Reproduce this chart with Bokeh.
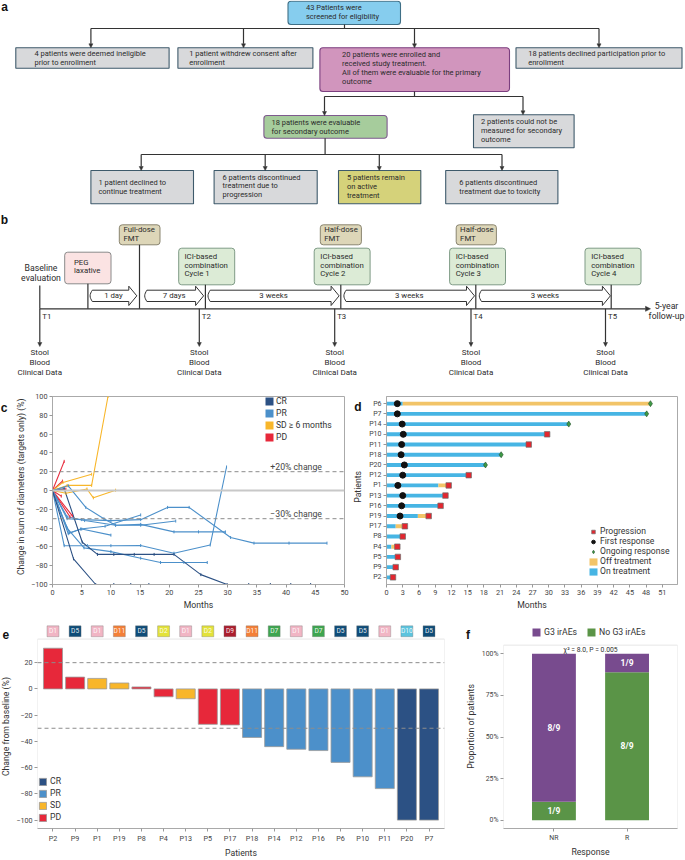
import numpy as np
from bokeh.plotting import figure
from bokeh.models import (Range1d, FactorRange, Arrow, NormalHead, Legend, LegendItem,
                          Label, Span, BoxAnnotation, FixedTicker, ColumnDataSource)
from bokeh.layouts import column, row
from bokeh.core.properties import value
from bokeh.embed import file_html
from bokeh.resources import INLINE

FONT = "Roboto"
BOLD = "Liberation Sans"
DARK = "#333333"
TXT = "#2b2b2b"
GRAY_FILL = "#d8d9db"
SLATE = "#3e5a6b"
NA = float("nan")

# ======================= DATA =======================
# panel a: flow chart
fc_text = [["43 Patients were", "screened for eligibility"],
           ["4 patients were deemed ineligible", "prior to enrollment"],
           ["1 patient withdrew consent after", "enrollment"],
           ["20 patients were enrolled and", "received study treatment.",
            "All of them were evaluable for the primary", "outcome"],
           ["18 patients declined participation prior to", "enrollment"],
           ["18 patients were evaluable", "for secondary outcome"],
           ["2 patients could not be", "measured for secondary", "outcome"],
           ["1 patient declined to", "continue treatment"],
           ["6 patients discontinued", "treatment due to", "progression"],
           ["5 patients remain", "on active", "treatment"],
           ["6 patients discontinued", "treatment due to toxicity"]]
# panel b: timeline
tl_points = ["T1", "T2", "T3", "T4", "T5"]
tl_steps = ["1 day", "7 days", "3 weeks", "3 weeks", "3 weeks"]
tl_events = [["PEG", "laxative"], ["Full-dose", "FMT"], ["ICI-based", "combination", "Cycle 1"],
             ["Half-dose", "FMT"], ["ICI-based", "combination", "Cycle 2"],
             ["Half-dose", "FMT"], ["ICI-based", "combination", "Cycle 3"],
             ["ICI-based", "combination", "Cycle 4"]]
tl_samples = ["Stool", "Blood", "Clinical Data"]

# panel c: spider plot
c_pat = ["P2", "P9", "P8", "P4", "P5", "P17", "P1", "P19", "P13",
         "P18", "P14", "P12", "P16", "P6", "P10", "P11", "P20", "P7"]
c_resp = ["PD"] * 6 + ["SD"] * 3 + ["PR"] * 7 + ["CR"] * 2
c_months = [
    [0, 2.0], [0, 1.7], [0, 2.3], [0, 1.5], [0, 3.4], [0, 3.0],
    [0, 1.8, 6.7], [0, 2.5, 6.7, 9.5], [0, 2.3, 5.9, 7.0, 10.8],
    [0, 2.5, 5.5, 10.8, 15.1, 21.1],
    [0, 2.7, 5.7, 8.8, 10.8, 15.1, 20.8, 25.0, 29.6],
    [0, 2.7, 4.8, 9.0, 15.1],
    [0, 1.5, 2.9, 5.0, 10.0],
    [0, 2.5, 5.0, 10.0, 15.1, 19.7, 23.4, 30.5, 34.5, 40.5, 47.0],
    [0, 2.0, 6.0, 10.0, 15.1, 20.8, 27.0, 29.8],
    [0, 2.5, 5.4, 10.0, 15.1, 18.5, 22.5, 26.5],
    [0, 3.6, 7.4, 10.5, 13.4, 16.5],
    [0, 2.0, 5.1, 7.7, 10.5, 14.0, 17.4, 20.8, 25.4, 29.9, 33.6, 37.3, 40.8, 44.2],
]
c_change = [
    [0, 31], [0, 10], [0, 1.5], [0, -6], [0, -27], [0, -28],
    [0, 8.6, 17.3], [0, 5.4, 5.4, 100], [0, -3, 1.6, -7.8, 0.3],
    [0, -28, -32, -37, -37, -32.5],
    [0, 5, -18, -30, -37, -36, -44, -44, -44],
    [0, -46, -41, -38, -26],
    [0, -25, -45, -41, -47.5],
    [0, -30, -31, -32, -31, -18, -18, -50, -56, -56, -56],
    [0, -58.7, -58.7, -58.7, -58.5, -66.7, -58, 25],
    [0, -40, -61, -65, -72, -76.6, -76.6, -76.6],
    [0, -72.7, -100, -100, -100, -100],
    [0, 1.9, -55, -68, -68, -68, -68, -68, -89.5, -100, -100, -100, -100, -100],
]
resp_names = ["CR", "PR", "SD", "PD"]
resp_colors = {"CR": "#2c5184", "PR": "#4c90ca", "SD": "#f8b62a", "PD": "#e7283a"}
c_legend_labels = ["CR", "PR", "SD \u2265 6 months", "PD"]

# panel d: swimmer plot
d_pat = ["P6", "P7", "P14", "P10", "P11", "P18", "P20", "P12", "P1",
         "P13", "P16", "P19", "P17", "P8", "P4", "P5", "P9", "P2"]
d_on_end = [3.0, 48.1, 33.7, 29.7, 26.3, 21.2, 18.3, 15.2, 9.6,
            10.9, 10.0, 5.8, 1.7, 3.0, 0.9, 2.1, 1.2, 1.2]
d_off_end = [48.8, 48.1, 33.7, 29.7, 26.3, 21.2, 18.3, 15.2, 11.5,
             10.9, 10.0, 7.8, 3.4, 3.0, 2.0, 2.1, 1.7, 1.2]
d_first_resp = [2.0, 2.0, 2.9, 3.1, 2.8, 2.7, 3.3, 3.0, 2.1,
                3.0, 2.8, 2.5, NA, NA, NA, NA, NA, NA]
d_progression = [NA, NA, NA, 29.7, 26.3, NA, NA, 15.2, 11.5,
                 10.9, 10.0, 7.8, 3.4, 3.0, 2.0, 2.1, 1.7, 1.2]
d_ongoing = [48.8, 48.1, 33.7, NA, NA, 21.2, 18.3, NA, NA,
             NA, NA, NA, NA, NA, NA, NA, NA, NA]

# panel e: waterfall
e_pat = ["P2", "P9", "P1", "P19", "P8", "P4", "P13", "P5", "P17",
         "P18", "P14", "P12", "P16", "P6", "P10", "P11", "P20", "P7"]
e_change = [31, 9, 8, 4.5, 1.5, -6, -7.5, -27, -27.5,
            -37, -44, -46, -47, -56, -67, -76, -100, -100]
e_resp = ["PD", "PD", "SD", "SD", "PD", "PD", "SD", "PD", "PD",
          "PR", "PR", "PR", "PR", "PR", "PR", "PR", "CR", "CR"]
e_donor = ["D1", "D5", "D1", "D11", "D5", "D2", "D1", "D2", "D9",
           "D11", "D7", "D1", "D7", "D5", "D5", "D1", "D10", "D5"]
donor_colors = {"D1": "#f1b5c4", "D5": "#0e4c78", "D11": "#f47f37", "D2": "#e3e23a",
                "D9": "#ab1d2d", "D7": "#3da54f", "D10": "#5cc4de"}

# panel f: stacked proportions
f_resp = ["NR", "R"]
f_g3 = [8, 1]
f_no_g3 = [1, 8]
f_total = [9, 9]
f_stat = "\u03c7\u00b2 = 8.0, P = 0.005"

# ======================= HELPERS =======================
def style_axes(p, tick_size="7.3px", label_size="8.7px"):
    for ax in p.axis:
        ax.axis_line_color = "#aaaaaa"
        ax.major_tick_line_color = "#999999"
        ax.major_tick_out = 3
        ax.major_tick_in = 0
        ax.minor_tick_line_color = None
        ax.major_label_text_font = FONT
        ax.major_label_text_font_size = tick_size
        ax.major_label_text_color = "#444444"
        ax.major_label_standoff = 2
        ax.axis_label_text_font = FONT
        ax.axis_label_text_font_size = label_size
        ax.axis_label_text_font_style = "normal"
        ax.axis_label_text_color = "#333333"
        ax.axis_label_standoff = 2
    p.grid.visible = False
    p.outline_line_color = "#aaaaaa"


def side_fig(w, h, letter, lx, ly_top, label=None, ax_x=None, ax_y_top=None, size="8.7px"):
    """Narrow strip left of a plot holding its panel letter and rotated y-axis title."""
    p = figure(width=w, height=h, x_range=Range1d(0, w), y_range=Range1d(0, h),
               x_axis_location=None, y_axis_location=None, min_border=0,
               output_backend="svg", toolbar_location=None)
    p.outline_line_color = None
    p.grid.visible = False
    p.text(x=[lx], y=[h - ly_top], text=[letter], text_font=value(BOLD), text_font_style="bold",
           text_font_size="12px", text_color="#111111", text_align="center",
           text_baseline="middle")
    if label:
        p.text(x=[ax_x], y=[h - ax_y_top], text=[label], angle=np.pi / 2, text_font=value(FONT),
               text_font_size=size, text_color="#333333", text_align="center",
               text_baseline="middle")
    return p


def multi_text(p, xs, ys, lines_list, spacing, size, align="left", color=TXT):
    X, Y, T = [], [], []
    for x, y, lines in zip(xs, ys, lines_list):
        for k, t in enumerate(lines):
            X.append(x)
            Y.append(y + k * spacing)
            T.append(t)
    p.text(x=X, y=Y, text=T, text_font=value(FONT), text_font_size=size, text_color=color,
           text_align=align, text_baseline="middle")


def draw_boxes(p, L, R, T, B, fills, lines, rounds, lw=1.1):
    for rnd in (False, True):
        idx = [i for i in range(len(L)) if rounds[i] == rnd]
        if not idx:
            continue
        p.quad(left=[L[i] for i in idx], right=[R[i] for i in idx],
               top=[T[i] for i in idx], bottom=[B[i] for i in idx],
               fill_color=[fills[i] for i in idx], line_color=[lines[i] for i in idx],
               line_width=lw, border_radius=3 if rnd else 0)


def draw_arrows(p, segs, head=4.0, lw=1.1):
    src = ColumnDataSource(dict(x0=[s[0] for s in segs], y0=[s[1] for s in segs],
                                x1=[s[2] for s in segs], y1=[s[3] for s in segs]))
    p.add_layout(Arrow(source=src, x_start="x0", y_start="y0", x_end="x1", y_end="y1",
                       line_color=DARK, line_width=lw,
                       end=NormalHead(size=head, fill_color=DARK, line_color=DARK, line_width=0.5)))


# ======================= TOP FIGURE (a + b) =======================
TOP_H = 379
top = figure(width=685, height=TOP_H, x_range=Range1d(0, 685), y_range=Range1d(TOP_H, 0),
             x_axis_location=None, y_axis_location=None, output_backend="svg",
             toolbar_location=None, min_border=0)
top.outline_line_color = None
top.grid.visible = False

# --- a ---
fc_left = [287.5, 15.3, 177.4, 319.4, 515.5, 263.4, 473.0, 90.4, 213.6, 338.0, 445.2]
fc_right = [400.0, 168.6, 312.4, 509.0, 681.5, 386.6, 573.6, 193.0, 316.7, 420.3, 557.4]
fc_top = [0.7, 47.3, 47.3, 47.3, 47.3, 115.0, 114.3, 170.0, 170.0, 170.0, 170.0]
fc_bot = [24.0, 67.7, 67.7, 91.0, 67.7, 137.7, 147.3, 203.3, 203.3, 203.3, 203.3]
fc_fill = ["#86cdee", GRAY_FILL, GRAY_FILL, "#d195bd", GRAY_FILL, "#a6cc9c", GRAY_FILL,
           GRAY_FILL, GRAY_FILL, "#d5d27a", GRAY_FILL]
fc_line = ["#3f6f86", SLATE, SLATE, "#7b3f7f", SLATE, "#7e5a8e", SLATE, SLATE, SLATE, SLATE, SLATE]
fc_round = [True, False, False, True, False, True, False, False, False, False, False]
fc_tx = [305.5, 34.0, 188.7, 341.6, 527.7, 271.0, 480.5, 97.9, 222.0, 346.4, 458.7]
fc_ty = [7.0, 53.0, 53.0, 54.3, 53.0, 121.8, 121.2, 181.7, 176.5, 177.2, 182.0]

draw_boxes(top, fc_left, fc_right, fc_top, fc_bot, fc_fill, fc_line, fc_round)
multi_text(top, fc_tx, fc_ty, fc_text, 8.9, "7.5px")

fc_segs = [(344, 24, 344, 28), (90.4, 28, 598.5, 28), (414, 91, 414, 96),
           (324, 96, 522.5, 96), (324.6, 137.7, 324.6, 154), (140.7, 154, 501.5, 154)]
top.segment(x0=[s[0] for s in fc_segs], y0=[s[1] for s in fc_segs],
            x1=[s[2] for s in fc_segs], y1=[s[3] for s in fc_segs], line_color=DARK, line_width=1.2)
draw_arrows(top, [(90.4, 28, 90.4, 47.3), (243, 28, 243, 47.3), (414, 28, 414, 47.3),
                  (598.5, 28, 598.5, 47.3), (324, 96, 324, 115), (522.5, 96, 522.5, 114.3),
                  (140.7, 154, 140.7, 170), (264.7, 154, 264.7, 170), (378.8, 154, 378.8, 170),
                  (501.5, 154, 501.5, 170)], head=4.0, lw=1.2)
top.text(x=[4.0, 4.0], y=[6.0, 219.7], text=["a", "b"], text_font=value(BOLD),
         text_font_style="bold", text_font_size="12px", text_color="#111111",
         text_align="center", text_baseline="middle")

# --- b ---
ev_left = [64.2, 118.8, 178.2, 319.8, 313.7, 455.7, 449.1, 584.5]
ev_right = [110.5, 159.5, 234.2, 360.9, 369.6, 495.9, 505.0, 640.5]
ev_top = [251.7, 224.3, 247.7, 224.3, 247.7, 224.3, 247.7, 247.7]
ev_bot = [283.3, 244.3, 284.3, 244.3, 284.3, 244.3, 284.3, 284.3]
ev_fill = ["#fbe3e3", "#ddd6b8", "#dcebd6", "#ddd6b8", "#dcebd6", "#ddd6b8", "#dcebd6", "#dcebd6"]
ev_line = ["#8a8a8a", "#8a8570", "#7f9b86", "#8a8570", "#7f9b86", "#8a8570", "#7f9b86", "#7f9b86"]
ev_tx = [73.4, 123.0, 184.0, 323.7, 319.8, 459.6, 455.2, 590.7]
ev_ty = [261.7, 229.3, 256.0, 229.3, 256.0, 229.3, 256.0, 256.0]
draw_boxes(top, ev_left, ev_right, ev_top, ev_bot, ev_fill, ev_line, [True] * 8, lw=1.0)
multi_text(top, ev_tx, ev_ty, tl_events, 8.7, "7.8px")

TL_Y = 308.3
tl_x = [39.3, 198.8, 334.2, 470.5, 605.0]
up_x = [39.3, 87.4, 139.0, 204.9, 340.3, 475.3, 610.7]
up_y = [285.0, 283.3, 244.3, 284.3, 284.3, 284.3, 284.3]
top.segment(x0=up_x, y0=up_y, x1=up_x, y1=[TL_Y] * len(up_x), line_color=DARK, line_width=1.2)
draw_arrows(top, [(39.3, TL_Y, 650.0, TL_Y)], head=5, lw=1.3)
draw_arrows(top, [(x, TL_Y, x, 346.0) for x in tl_x], head=4.0, lw=1.2)
top.text(x=[x + 2.5 for x in tl_x], y=[315.7] * 5, text=tl_points, text_font=value(FONT),
         text_font_size="7.8px", text_color=TXT, text_baseline="middle")
multi_text(top, tl_x, [352.3] * 5, [tl_samples] * 5, 9.8, "8px", align="center")
multi_text(top, [40.5], [267.7], [["Baseline", "evaluation"]], 10.0, "8.7px", align="center")
multi_text(top, [666.0], [305.0], [["5-year", "follow-up"]], 10.0, "8.7px", align="center")

# block arrows between time points
ba_x0 = [89.6, 144.2, 207.5, 343.4, 478.8]
ba_x1 = [136.3, 203.1, 338.6, 474.0, 609.9]
bt, bb, ht, hb, ym, hl = 289.7, 301.0, 285.7, 305.0, 295.35, 8.0
pxs, pys = [], []
for x0, x1 in zip(ba_x0, ba_x1):
    t = np.linspace(0, 1, 9)
    arc_x = list(x0 + 2.2 - 2.2 * np.sin(np.pi * t))
    arc_y = list(bb + (bt - bb) * t)
    pxs.append([x0 + 2.2, x1 - hl, x1 - hl, x1, x1 - hl, x1 - hl, x0 + 2.2] + arc_x[1:-1])
    pys.append([bt, bt, ht, ym, hb, bb, bb] + arc_y[1:-1])
top.patches(xs=pxs, ys=pys, fill_color="white", line_color=DARK, line_width=1.0)
top.text(x=[(a + b) / 2 for a, b in zip(ba_x0, ba_x1)], y=[ym] * 5, text=tl_steps,
         text_font=value(FONT), text_font_size="7.8px", text_color=TXT,
         text_align="center", text_baseline="middle")

# ======================= PANEL c =======================
CD_H = 233
c_side = side_fig(27, CD_H, "c", 3.5, 14.3,
                  "Change in sum of diameters (targets only) (%)", 20.7, 111.85)
c = figure(width=323, height=CD_H, x_range=Range1d(0, 50), y_range=Range1d(-100, 100),
           output_backend="svg", toolbar_location=None,
           min_border_left=25, min_border_right=6, min_border_top=17, min_border_bottom=26)
style_axes(c)
c.xaxis.ticker = FixedTicker(ticks=list(range(0, 51, 5)))
c.yaxis.ticker = FixedTicker(ticks=list(range(-100, 101, 20)))
c.yaxis.major_label_overrides = {v: ("\u2212%d" % -v if v < 0 else str(v)) for v in range(-100, 101, 20)}
c.xaxis.axis_label = "Months"
c.add_layout(Span(location=0, dimension="width", line_color="#c8c8c8", line_width=2))
for lv in (20, -30):
    c.add_layout(Span(location=lv, dimension="width", line_color="#8c8c8c",
                      line_dash="4 3", line_width=1))
c.text(x=[37.3, 37.3], y=[25.4, -24.6], text=["+20% change", "\u221230% change"],
       text_font=value(FONT), text_font_size="8.7px", text_color="#444444",
       text_baseline="middle")
c_cols = [resp_colors[r] for r in c_resp]
c.multi_line(xs=c_months, ys=c_change, line_color=c_cols, line_width=1.1)
mx, my, mc = [], [], []
for xs_, ys_, col in zip(c_months, c_change, c_cols):
    mx += xs_[1:]
    my += ys_[1:]
    mc += [col] * (len(xs_) - 1)
c.scatter(x=mx, y=my, marker="dash", angle=np.pi / 2, size=3, line_color=mc, line_width=1)
c_items = []
for lab, rn in zip(c_legend_labels, resp_names):
    r = c.quad(left=[NA], right=[NA], top=[NA], bottom=[NA], fill_color=resp_colors[rn],
               line_color=None)
    c_items.append(LegendItem(label=lab, renderers=[r]))
c.add_layout(Legend(items=c_items, location=(212, 142), glyph_width=10, glyph_height=10,
                    label_height=10, spacing=2, padding=0, margin=0, label_standoff=2,
                    border_line_color=None, background_fill_alpha=0,
                    label_text_font=FONT, label_text_font_size="8.6px",
                    label_text_color="#333333"))

# ======================= PANEL d =======================
d_side = side_fig(14, CD_H, "d", 7.5, 13.3, "Patients", 7.7, 112.0)
d = figure(width=321, height=CD_H, x_range=Range1d(0, 53.8),
           y_range=FactorRange(factors=d_pat[::-1], range_padding=0.2,
                               range_padding_units="absolute"),
           output_backend="svg", toolbar_location=None,
           min_border_left=22, min_border_right=8, min_border_top=17, min_border_bottom=26)
style_axes(d)
d.xaxis.ticker = FixedTicker(ticks=list(range(0, 52, 3)))
d.xaxis.axis_label = "Months"
d.yaxis.major_label_text_font_size = "7px"
r_on = d.hbar(y=d_pat, left=0, right=d_on_end, height=0.38, fill_color="#47b5e4", line_color=None)
r_off = d.hbar(y=d_pat, left=d_on_end, right=d_off_end, height=0.38, fill_color="#f2c468",
               line_color=None)
r_fr = d.scatter(x=d_first_resp, y=d_pat, marker="circle", size=6, fill_color="#111111",
                 line_color="#111111")
r_pg = d.scatter(x=d_progression, y=d_pat, marker="square", size=5.5, fill_color="#e4262f",
                 line_color="#6e6e6e", line_width=0.7)
r_og = d.scatter(x=d_ongoing, y=d_pat, marker="diamond", size=6, fill_color="#3e9a45",
                 line_color="#24512a", line_width=0.6)
d_items = [LegendItem(label="Progression", renderers=[r_pg]),
           LegendItem(label="First response", renderers=[r_fr]),
           LegendItem(label="Ongoing response", renderers=[r_og]),
           LegendItem(label="Off treatment", renderers=[r_off]),
           LegendItem(label="On treatment", renderers=[r_on])]
d.add_layout(Legend(items=d_items, location=(202, 8), glyph_width=10, glyph_height=9,
                    label_height=9, spacing=0, padding=0, margin=0, label_standoff=2,
                    border_line_color=None, background_fill_alpha=0,
                    label_text_font=FONT, label_text_font_size="8.6px",
                    label_text_color="#333333"))

# ======================= PANEL e =======================
EF_H = 248
e_side = side_fig(12, EF_H, "e", 5.3, 13.0, "Change from baseline (%)", 5.6, 124.7)
e = figure(width=448, height=EF_H, x_range=FactorRange(factors=e_pat, range_padding=0.2,
                                                       range_padding_units="absolute"),
           y_range=Range1d(-106.4, 49.85), output_backend="svg", toolbar_location=None,
           min_border_left=25, min_border_right=16, min_border_top=11, min_border_bottom=26)
style_axes(e, tick_size="7.2px")
e.outline_line_color = None
e.yaxis.axis_line_color = None
e.yaxis.ticker = FixedTicker(ticks=list(range(-100, 21, 20)))
e.xaxis.axis_label = "Patients"
e.add_layout(BoxAnnotation(bottom=-106.4, top=38, fill_color=None, fill_alpha=0,
                           line_color="#aaaaaa", line_width=1))
for lv in (20, -30):
    e.add_layout(Span(location=lv, dimension="width", line_color="#8c8c8c",
                      line_dash="4 3", line_width=1))
e_items = []
for rn in resp_names:
    idx = [i for i, r in enumerate(e_resp) if r == rn]
    r = e.vbar(x=[e_pat[i] for i in idx], top=[e_change[i] for i in idx], bottom=0, width=0.86,
               fill_color=resp_colors[rn], line_color="#9a9a9a", line_width=0.8)
    e_items.append(LegendItem(label=rn, renderers=[r]))
e.rect(x=e_pat, y=43.9, width=0.54, height=8.3, fill_color=[donor_colors[dn] for dn in e_donor],
       line_color="#777777", line_alpha=0.6, line_width=0.6)
e.text(x=e_pat, y=43.9, text=e_donor, text_font=value(FONT), text_font_size="6.6px",
       text_color="#ffffff", text_alpha=0.9, text_align="center", text_baseline="middle")
e.add_layout(Legend(items=e_items, location=(1, 6), glyph_width=9, glyph_height=9,
                    label_height=10, spacing=2, padding=0, margin=0, label_standoff=3,
                    border_line_color=None, background_fill_alpha=0,
                    label_text_font=FONT, label_text_font_size="8.7px",
                    label_text_color="#333333"))

# ======================= PANEL f =======================
f_side = side_fig(18, EF_H, "f", 7.5, 14.0, "Proportion of patients", 10.0, 124.5)
f_src = ColumnDataSource(dict(resp=f_resp,
                              nog3=[n / t for n, t in zip(f_no_g3, f_total)],
                              g3=[g / t for g, t in zip(f_g3, f_total)]))
F_TOP = 1.0525
f = figure(width=207, height=EF_H, x_range=FactorRange(factors=f_resp, range_padding=0.19,
                                                       range_padding_units="absolute"),
           y_range=Range1d(-0.0492, 1.1825), output_backend="svg", toolbar_location=None,
           min_border_left=25, min_border_right=8, min_border_top=4, min_border_bottom=26)
style_axes(f, tick_size="6.9px")
f.outline_line_color = None
f.yaxis.axis_line_color = None
f.yaxis.ticker = FixedTicker(ticks=[0, 0.25, 0.5, 0.75, 1.0])
f.yaxis.major_label_overrides = {0: "0%", 0.25: "25%", 0.5: "50%", 0.75: "75%", 1.0: "100%"}
f.xaxis.axis_label = "Response"
f.add_layout(BoxAnnotation(bottom=-0.0492, top=F_TOP, fill_color=None, fill_alpha=0,
                           line_color="#aaaaaa", line_width=1))
f_rs = f.vbar_stack(["nog3", "g3"], x="resp", width=0.6, fill_color=["#5a9447", "#784b8e"],
                    line_color=None, source=f_src)
lab_y, lab_t, lab_x = [], [], []
for rsp, n, g, t in zip(f_resp, f_no_g3, f_g3, f_total):
    lab_x += [rsp, rsp]
    lab_y += [n / t / 2, n / t + g / t / 2]
    lab_t += ["%d/%d" % (n, t), "%d/%d" % (g, t)]
f.text(x=lab_x, y=lab_y, text=lab_t, text_font=value(FONT), text_font_style="bold",
       text_font_size="8.5px", text_color="#ffffff", text_align="center", text_baseline="middle")
f.add_layout(Label(x=1.0, y=1.0226, text=f_stat, text_font=FONT, text_font_size="6.8px",
                   text_color="#333333", text_align="center", text_baseline="middle"))
f.add_layout(Legend(items=[LegendItem(label="G3 irAEs", renderers=[f_rs[1]]),
                           LegendItem(label="No G3 irAEs", renderers=[f_rs[0]])],
                    location=(28, 191), orientation="horizontal", glyph_width=10,
                    glyph_height=10, label_height=10, spacing=9, padding=0, margin=0,
                    label_standoff=3, border_line_color=None, background_fill_alpha=0,
                    label_text_font=FONT, label_text_font_size="8.7px",
                    label_text_color="#333333"))

layout = column(top, row(c_side, c, d_side, d), row(e_side, e, f_side, f))
open("out.html", "w").write(file_html(layout, INLINE))
